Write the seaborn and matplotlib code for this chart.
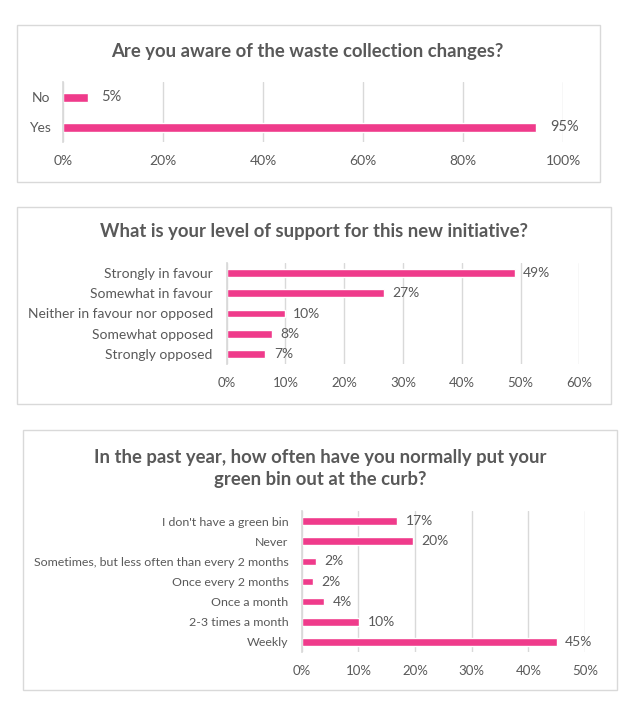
import matplotlib
matplotlib.use("Agg")
import matplotlib.pyplot as plt
import seaborn as sns
import pandas as pd
from matplotlib.patches import Rectangle
from matplotlib.ticker import PercentFormatter

# ---- data ----
q1_title = "Are you aware of the waste collection changes?"
q1_cats = ["No", "Yes"]
q1_vals = [4.9, 94.6]
q1_labels = ["5%", "95%"]
q1_ticks = [0, 20, 40, 60, 80, 100]

q2_title = "What is your level of support for this new initiative?"
q2_cats = ["Strongly in favour", "Somewhat in favour", "Neither in favour nor opposed",
           "Somewhat opposed", "Strongly opposed"]
q2_vals = [49.0, 26.7, 9.9, 7.7, 6.6]
q2_labels = ["49%", "27%", "10%", "8%", "7%"]
q2_ticks = [0, 10, 20, 30, 40, 50, 60]

q3_title = "In the past year, how often have you normally put your\ngreen bin out at the curb?"
q3_cats = ["I don't have a green bin", "Never", "Sometimes, but less often than every 2 months",
           "Once every 2 months", "Once a month", "2-3 times a month", "Weekly"]
q3_vals = [16.9, 19.6, 2.5, 2.0, 4.0, 10.2, 45.0]
q3_labels = ["17%", "20%", "2%", "2%", "4%", "10%", "45%"]
q3_ticks = [0, 10, 20, 30, 40, 50]

# ---- style ----
sns.set_theme(style="white")
plt.rcParams['font.family'] = ['Lato', 'DejaVu Sans']
PINK = "#EF3B8B"
TXT = "#595959"
GRID = "#D9D9D9"

W, H = 641, 709
fig = plt.figure(figsize=(W / 100, H / 100), dpi=100)


def px_axes(left, top, right, bottom):
    return fig.add_axes([left / W, 1 - bottom / H, (right - left) / W, (bottom - top) / H])


def box(left, top, right, bottom):
    fig.patches.append(Rectangle((left / W, 1 - bottom / H), (right - left) / W, (bottom - top) / H,
                                 transform=fig.transFigure, fill=False, edgecolor=GRID, lw=1.0))


def panel(ax, cats, vals, labels, ticks, bar_w, cat_fs, tick_fs, pad, ypad):
    df = pd.DataFrame({"cat": cats, "val": vals})
    sns.barplot(data=df, x="val", y="cat", orient="h", color=PINK, width=bar_w,
                saturation=1, ax=ax)
    ax.bar_label(ax.containers[0], labels=labels, padding=pad, color=TXT, fontsize=tick_fs + 0.5)
    ax.set_xlim(ticks[0], ticks[-1])
    ax.set_ylim(len(cats) - 0.5, -0.5)
    ax.set_xticks(ticks)
    ax.xaxis.set_major_formatter(PercentFormatter(decimals=0))
    ax.grid(axis="x", color=GRID, lw=1.0)
    ax.set_axisbelow(True)
    for s in ["top", "right", "bottom"]:
        ax.spines[s].set_visible(False)
    ax.spines["left"].set_color(GRID)
    ax.set_xlabel("")
    ax.set_ylabel("")
    ax.tick_params(axis="x", length=0, pad=9.5, labelsize=tick_fs, labelcolor=TXT)
    ax.tick_params(axis="y", length=0, pad=ypad, labelsize=cat_fs, labelcolor=TXT)
    ax.set_facecolor("none")


TITLE_FS = 13.3

# panel 1
box(17, 25, 600, 182)
ax1 = px_axes(63, 82, 563.3, 142)
panel(ax1, q1_cats, q1_vals, q1_labels, q1_ticks, 0.3, 10, 10, 10, 9)
fig.text(307 / W, 1 - 52 / H, q1_title, ha="center", va="center", fontsize=TITLE_FS,
         fontweight="bold", color=TXT)

# panel 2
box(17, 207, 611, 404)
ax2 = px_axes(226.7, 263, 579.3, 364)
panel(ax2, q2_cats, q2_vals, q2_labels, q2_ticks, 0.38, 10, 9.5, 6, 10)
fig.text(314 / W, 1 - 232 / H, q2_title, ha="center", va="center", fontsize=TITLE_FS,
         fontweight="bold", color=TXT)

# panel 3
box(23, 430, 617, 690)
ax3 = px_axes(301.7, 511, 585, 652)
panel(ax3, q3_cats, q3_vals, q3_labels, q3_ticks, 0.38, 8.9, 9.5, 6, 9.5)
fig.text(320 / W, 1 - 468.5 / H, q3_title, ha="center", va="center", fontsize=TITLE_FS,
         fontweight="bold", color=TXT, linespacing=1.4)

fig.savefig("out.png", dpi=100, facecolor="white")
